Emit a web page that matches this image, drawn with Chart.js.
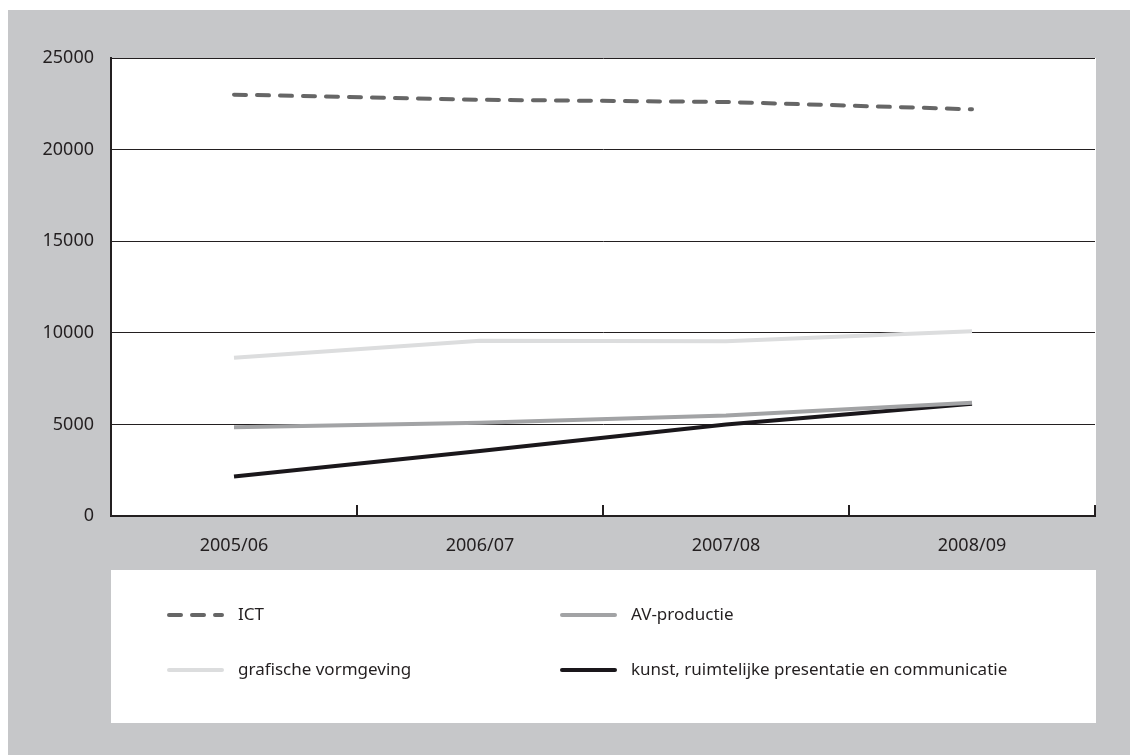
<!DOCTYPE html>
<html>
<head>
<meta charset="utf-8">
<script src="https://cdn.jsdelivr.net/npm/chart.js@4"></script>
<style>
  html, body { margin: 0; padding: 0; background: #fff; }
  #wrap { width: 1130px; height: 755px; }
</style>
</head>
<body>
<div id="wrap"><canvas id="chart" width="1130" height="755"></canvas></div>
<script>
const years = ['2005/06', '2006/07', '2007/08', '2008/09'];
const ict = [23000, 22720, 22600, 22200];
const avProductie = [4840, 5090, 5480, 6180];
const grafisch = [8640, 9560, 9540, 10080];
const kunst = [2150, 3550, 5000, 6130];
const yTicks = [0, 5000, 10000, 15000, 20000, 25000];

const FONT = '"Noto Sans", "Open Sans", sans-serif';

// grey panel, white plot area and legend box, legend items
const backdrop = {
    id: 'backdrop',
    beforeDraw(chart) {
        const { ctx, chartArea: a } = chart;
        ctx.save();
        ctx.fillStyle = '#fff';
        ctx.fillRect(0, 0, chart.width, chart.height);
        ctx.fillStyle = '#c6c7c9';
        ctx.fillRect(8, 10, chart.width - 8, chart.height - 10);
        ctx.fillStyle = '#fff';
        ctx.fillRect(a.left, a.top, a.right - a.left + 1, a.bottom - a.top);
        ctx.fillRect(a.left, 570, a.right - a.left + 1, 153);
        ctx.restore();
    },
    afterDraw(chart) {
        const { ctx } = chart;
        const slots = [[167, 615], [560, 615], [167, 670], [560, 670]];
        ctx.save();
        chart.data.datasets.forEach((ds, n) => {
            const [x, y] = slots[n];
            ctx.beginPath();
            ctx.lineWidth = ds.borderWidth;
            ctx.strokeStyle = ds.borderColor;
            ctx.lineCap = 'round';
            ctx.setLineDash(ds.borderDash || []);
            ctx.moveTo(x + 2, y);
            ctx.lineTo(x + 55, y);
            ctx.stroke();
            ctx.setLineDash([]);
            ctx.fillStyle = '#231f20';
            ctx.font = '17px ' + FONT;
            ctx.textBaseline = 'middle';
            ctx.fillText(ds.label, x + 71, y);
        });
        ctx.restore();
    }
};

new Chart(document.getElementById('chart'), {
    type: 'line',
    data: {
        labels: years,
        datasets: [
            { label: 'ICT', data: ict, borderColor: '#666666', borderWidth: 4, borderDash: [12, 11], borderCapStyle: 'round' },
            { label: 'AV-productie', data: avProductie, borderColor: '#a2a3a5', borderWidth: 4 },
            { label: 'grafische vormgeving', data: grafisch, borderColor: '#dcddde', borderWidth: 4 },
            { label: 'kunst, ruimtelijke presentatie en communicatie', data: kunst, borderColor: '#1a171b', borderWidth: 4 }
        ]
    },
    options: {
        responsive: false,
        animation: false,
        events: [],
        layout: { padding: { left: 0, top: 58, right: 35, bottom: 194 } },
        elements: { point: { radius: 0 }, line: { tension: 0 } },
        plugins: { legend: { display: false }, tooltip: { enabled: false } },
        scales: {
            x: {
                offset: true,
                grid: { offset: true, drawOnChartArea: false, color: '#231f20', lineWidth: 2, tickLength: -11 },
                border: { display: true, color: '#231f20', width: 2 },
                ticks: { color: '#231f20', font: { family: FONT, size: 18 }, padding: 30, maxRotation: 0 },
                afterFit(scale) { scale.height = 45; }
            },
            y: {
                min: 0,
                max: 25000,
                afterBuildTicks(scale) { scale.ticks = yTicks.map(v => ({ value: v })); },
                grid: { color: '#231f20', lineWidth: 1, drawTicks: false },
                border: { display: true, color: '#231f20', width: 2 },
                ticks: { color: '#231f20', font: { family: FONT, size: 18 }, padding: 17, callback: v => String(v) },
                afterFit(scale) { scale.width = 111; }
            }
        }
    },
    plugins: [backdrop]
});
</script>
</body>
</html>
